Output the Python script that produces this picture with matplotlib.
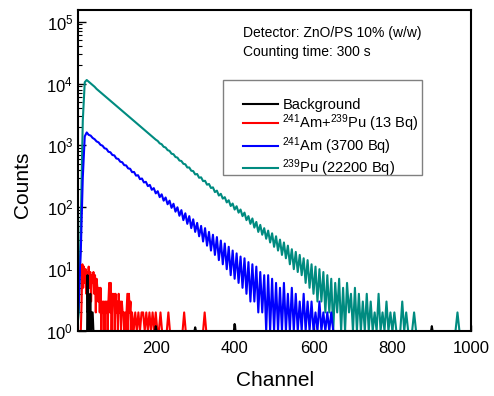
import numpy as np
import matplotlib
matplotlib.use('Agg')
import matplotlib.pyplot as plt
from matplotlib.patches import Rectangle

plt.rcParams['font.family'] = ['Liberation Sans', 'DejaVu Sans']
plt.rcParams['mathtext.fontset'] = 'custom'
plt.rcParams['mathtext.rm'] = 'Liberation Sans'
plt.rcParams['mathtext.it'] = 'Liberation Sans'

# 239Pu (22200 Bq), channels 0..1000 every 5
puChannels = np.arange(0, 1005, 5)
puCounts = ([1, 2, 60, 2500, 10500, 11400,
             10700, 10050, 9440, 8860, 8180, 7680, 7210, 6770, 6360, 5970,
             5610, 5260, 4940, 4640, 4365, 4100, 3850, 3610, 3390, 3185,
             2990, 2810, 2640, 2480, 2330, 2185, 2050, 1930, 1810, 1700,
             1596, 1499, 1407, 1321, 1240,
             1180, 1080, 1045, 950, 925, 840, 815, 735, 720, 650,
             635, 570, 560, 505, 495, 440, 440, 390, 385, 340,
             345, 300, 305, 265, 268, 232, 238, 205, 210, 176,
             186, 155, 165, 138, 146, 120, 130, 105, 115, 92,
             104, 82, 92, 72, 82, 62, 72, 54, 66, 47,
             58, 40, 52, 36, 46, 31, 42, 27, 38, 23,
             34, 20, 30, 17, 27, 15, 24, 12, 21, 10,
             19, 9, 17, 8, 15, 6, 14, 5, 12, 4,
             11, 3, 10, 3, 9, 2, 8, 2, 7, 1,
             6, 2, 7, 1, 5, 1, 6, 2, 4, 1,
             5, 1, 4, 1, 3, 1, 4, 1, 3, 1,
             2, 1, 4, 1, 2, 1, 3, 1, 2, 1,
             2, 1, 1, 1, 3, 1, 2, 1, 1, 1,
             2, 1]
            + [1] * 20 + [2] + [1] * 7)

# 241Am (3700 Bq), channels 0..650 every 5
amChannels = np.arange(0, 655, 5)
amCounts = [1, 3, 20, 300, 1400, 1620,
            1480, 1440, 1320, 1260, 1160, 1120, 1020, 990, 900, 880,
            790, 775, 700, 690, 615, 605, 545, 535, 480, 475,
            425, 420, 370, 372, 325, 330, 285, 292, 252, 258,
            220, 230, 192, 204, 168,
            182, 146, 162, 128, 144, 112, 128, 98, 114, 85,
            100, 73, 90, 62, 80, 54, 72, 46, 64, 40,
            56, 34, 50, 28, 46, 24, 40, 20, 36, 17,
            33, 14, 29, 12, 26, 10, 23, 8, 20, 7,
            18, 6, 16, 5, 15, 4, 13, 3, 12, 3,
            11, 2, 9, 2, 8, 1, 8, 1, 7, 1,
            6, 1, 5, 1, 6, 1, 4, 1, 5, 1,
            4, 1, 3, 1, 4, 1, 3, 1, 3, 1,
            2, 1, 3, 1, 2, 1, 2, 1, 2, 1]

# 241Am+239Pu (13 Bq)
mixChannels = np.concatenate([np.arange(0, 140, 2), np.arange(140, 424, 4)])
mixCounts = ([1, 1, 1, 1, 1, 1, 3, 12, 5, 11, 6, 10, 4, 9, 7, 11, 5, 9, 3, 8,
              6, 9, 4, 8, 2, 7, 5, 3, 5, 2, 5, 1, 3, 2, 3, 1, 3, 2, 3, 1,
              3, 6, 2, 6, 1, 4, 3, 4, 1, 4, 2, 3, 1, 4, 2, 3, 1, 3, 2, 2,
              1, 2, 1, 2, 4, 1, 4, 2, 3, 1]
             + [2, 1, 2, 1, 2, 1, 2, 2, 1, 2, 1, 2, 1, 2, 1, 2, 1, 1]
             + [2] + [1] * 4 + [2] + [1] * 9 + [2] + [1] * 12 + [2] + [1] * 24)

# Background
bgChannels = [0, 20, 26, 27, 28, 30, 32, 34, 36, 38, 40, 42, 44,
              198, 200, 202, 298, 300, 302, 398, 400, 402, 898, 900, 902, 1000]
bgCounts = [1, 1, 1, 8, 2, 3, 1, 4, 1, 2, 2, 1, 1,
            1, 1.2, 1, 1, 1.15, 1, 1, 1.3, 1, 1, 1.2, 1, 1]

seriesLabels = ['Background',
                r'$^{241}$Am+$^{239}$Pu (13 Bq)',
                r'$^{241}$Am (3700 Bq)',
                r'$^{239}$Pu (22200 Bq)']
seriesColors = ['black', '#ff0000', '#0000ff', '#008b80']


def createGraphicPlot():
    fig = plt.figure(figsize=(4.94, 3.96), dpi=100)
    ax = fig.add_axes([0.158, 0.164, 0.796, 0.811])

    lw = 1.5
    linePu, = ax.plot(puChannels, puCounts, color=seriesColors[3], lw=lw)
    lineAm, = ax.plot(amChannels, amCounts, color=seriesColors[2], lw=lw)
    lineMix, = ax.plot(mixChannels, mixCounts, color=seriesColors[1], lw=lw)
    lineBg, = ax.plot(bgChannels, bgCounts, color=seriesColors[0], lw=lw)

    ax.set_yscale('log')
    ax.set_ylim(1, 10 ** 5.19)
    ax.set_xlim(3, 1000)
    ax.set_xticks([200, 400, 600, 800, 1000])
    ax.set_yticks([1, 10, 100, 1000, 10000, 100000])
    ax.tick_params(axis='both', which='both', direction='in', labelsize=12)
    ax.tick_params(axis='y', which='major', length=6, width=1)
    ax.tick_params(axis='y', which='minor', length=3, width=0.8)
    ax.tick_params(axis='x', which='major', length=4, width=1, pad=7)
    for spine in ax.spines.values():
        spine.set_linewidth(1.5)

    ax.set_xlabel('Channel', fontsize=15, labelpad=11)
    ax.set_ylabel('Counts', fontsize=15)
    ax.yaxis.set_label_coords(-0.118, 0.455)

    fig.text(243 / 494, 1 - 33 / 396, 'Detector: ZnO/PS 10% (w/w)',
             fontsize=10, va='center', ha='left')
    fig.text(243 / 494, 1 - 52 / 396, 'Counting time: 300 s',
             fontsize=10, va='center', ha='left')

    fig.patches.append(Rectangle((223 / 494, 1 - 175 / 396), 199 / 494, 95 / 396,
                                 transform=fig.transFigure, fill=False,
                                 edgecolor='#808080', lw=1))
    ax.legend([lineBg, lineMix, lineAm, linePu], seriesLabels,
              loc='upper left', bbox_to_anchor=(243 / 494, 1 - 98 / 396),
              bbox_transform=fig.transFigure, frameon=False, fontsize=10.5,
              borderpad=0, borderaxespad=0, handlelength=2.4,
              handletextpad=0.3, labelspacing=0.05)

    fig.savefig('out.png', dpi=100)


def main():
    createGraphicPlot()


if __name__ == "__main__":
    main()
